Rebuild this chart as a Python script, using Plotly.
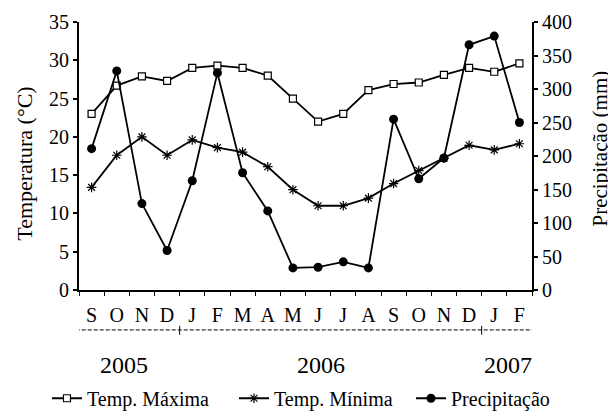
import plotly.graph_objects as go

months = ["S", "O", "N", "D", "J", "F", "M", "A", "M", "J", "J", "A", "S", "O", "N", "D", "J", "F"]
temp_max = [23.0, 26.7, 27.9, 27.3, 29.0, 29.3, 29.0, 28.0, 25.0, 22.0, 23.0, 26.1, 26.9, 27.1, 28.1, 29.0, 28.5, 29.6]
temp_min = [13.4, 17.6, 20.0, 17.6, 19.6, 18.6, 18.0, 16.1, 13.1, 11.0, 11.0, 12.0, 13.9, 15.6, 17.2, 18.9, 18.3, 19.1]
precip = [211, 327, 129, 59, 163, 324, 175, 118, 33, 34, 42, 33, 255, 166, 197, 366, 379, 250]
years = ["2005", "2006", "2007"]
year_pos = [1.28, 9.1, 16.53]
year_breaks = [3.5, 15.5]

x = list(range(len(months)))
FONT = "Liberation Serif, Times New Roman, serif"
BLACK = "black"

fig = go.Figure()
fig.add_trace(go.Scatter(
    x=x, y=temp_max, name="Temp. Máxima", mode="lines+markers", legend="legend",
    line=dict(color=BLACK, width=1.8),
    marker=dict(symbol="square", size=7, color="white", line=dict(color=BLACK, width=1.2)),
))
fig.add_trace(go.Scatter(
    x=x, y=temp_min, name="Temp. Mínima", mode="lines+markers", legend="legend2",
    line=dict(color=BLACK, width=1.8),
    marker=dict(symbol="asterisk-open", size=8, color=BLACK, line=dict(color=BLACK, width=1.2)),
))
fig.add_trace(go.Scatter(
    x=x, y=precip, name="Precipitação", mode="lines+markers", yaxis="y2", legend="legend3",
    line=dict(color=BLACK, width=1.8),
    marker=dict(symbol="circle", size=9, color=BLACK),
))

# dashed year line below month labels
fig.add_shape(type="line", xref="x", yref="paper", x0=-0.87, x1=17.84, y0=-0.149, y1=-0.149,
              line=dict(color=BLACK, width=1, dash="4px,2px"))
for b in year_breaks:
    fig.add_shape(type="line", xref="x", yref="paper", x0=b, x1=b, y0=-0.134, y1=-0.167,
                  line=dict(color=BLACK, width=1))
for yr, p in zip(years, year_pos):
    fig.add_annotation(x=p, y=-0.28, xref="x", yref="paper", text=yr, showarrow=False,
                       yanchor="middle", font=dict(family=FONT, size=24, color=BLACK))

# axis titles
fig.add_annotation(x=-0.122, y=0.47, xref="paper", yref="paper", text="Temperatura (°C)",
                   textangle=-90, showarrow=False, xanchor="center", yanchor="middle",
                   font=dict(family=FONT, size=22, color=BLACK))
fig.add_annotation(x=1.149, y=0.53, xref="paper", yref="paper", text="Precipitação (mm)",
                   textangle=-90, showarrow=False, xanchor="center", yanchor="middle",
                   font=dict(family=FONT, size=21, color=BLACK))

def legend_box(xpos):
    return dict(orientation="h", xref="container", yref="container",
                x=xpos, xanchor="left", y=0.034, yanchor="middle",
                font=dict(family=FONT, size=20, color=BLACK),
                bgcolor="rgba(0,0,0,0)", borderwidth=0)

fig.update_layout(
    width=608, height=404,
    margin=dict(l=71, r=84, t=14, b=122, autoexpand=False),
    paper_bgcolor="white", plot_bgcolor="white",
    font=dict(family=FONT, size=20, color=BLACK),
    showlegend=True,
    legend=legend_box(0.0641),
    legend2=legend_box(0.3717),
    legend3=legend_box(0.6628),
    xaxis=dict(
        range=[-0.5, 17.5], tickmode="array", tickvals=x, ticktext=months,
        ticks="", ticklabelstandoff=6, showgrid=False, zeroline=False, automargin=False,
        showline=True, linecolor=BLACK, linewidth=2,
        tickfont=dict(family=FONT, size=20, color=BLACK),
        minor=dict(tickmode="array", tickvals=[i - 0.5 for i in range(len(months) + 1)],
                   ticks="outside", ticklen=4, tickcolor=BLACK, tickwidth=1, showgrid=False),
    ),
    yaxis=dict(
        range=[0, 35], tickvals=list(range(0, 36, 5)), ticks="outside", ticklen=4,
        tickwidth=1.5, tickcolor=BLACK, showgrid=False, zeroline=False, automargin=False,
        showline=True, linecolor=BLACK, linewidth=2,
        tickfont=dict(family=FONT, size=20, color=BLACK),
    ),
    yaxis2=dict(
        range=[0, 400], tickvals=list(range(0, 401, 50)), overlaying="y", side="right",
        ticks="outside", ticklen=4, tickwidth=1.5, tickcolor=BLACK, showgrid=False,
        zeroline=False, showline=True, linecolor=BLACK, linewidth=2, automargin=False,
        tickfont=dict(family=FONT, size=20, color=BLACK),
    ),
)

fig.write_html("out.html")
